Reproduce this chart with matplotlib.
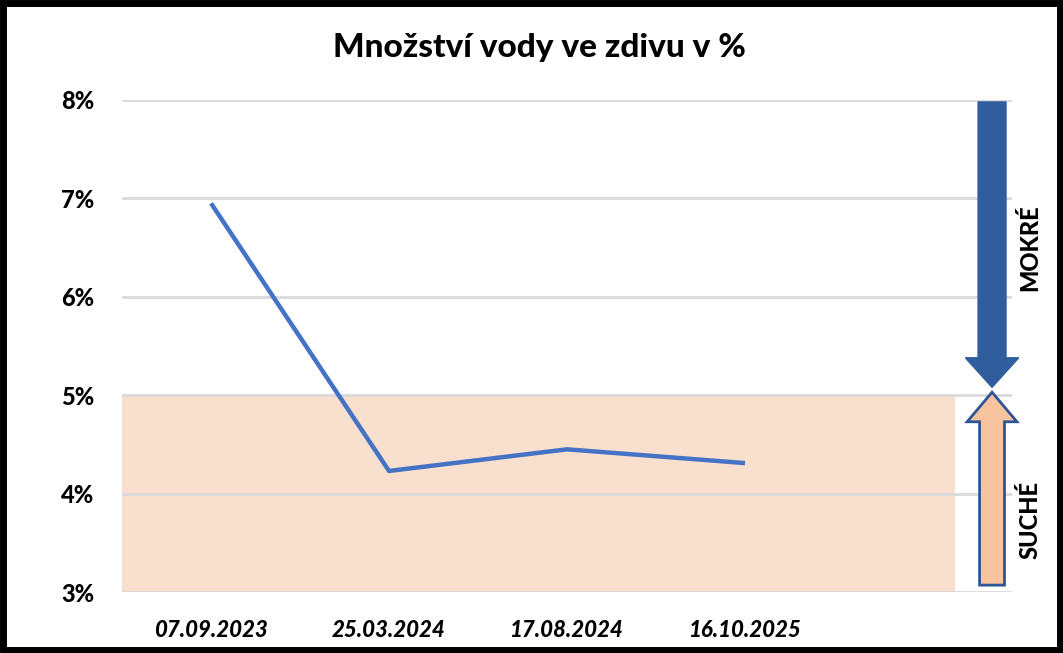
import matplotlib.pyplot as plt
import matplotlib.patches as mpatches
from matplotlib.ticker import FuncFormatter

plt.rcParams['font.family'] = ['Lato', 'DejaVu Sans']

dates = ['07.09.2023', '25.03.2024', '17.08.2024', '16.10.2025']
water = [6.95, 4.23, 4.45, 4.31]
y_ticks = [3, 4, 5, 6, 7, 8]
dry_limit = 5

fig = plt.figure(figsize=(10.63, 6.53), dpi=100)
ax = fig.add_axes([0.1148, 0.0934, 0.8372, 0.7535])

# dry zone shading
ax.fill_between([-0.5, 4.18], 3, dry_limit, color='#F9E0CE', zorder=1, linewidth=0)

ax.plot(range(len(dates)), water, color='#4472C4', linewidth=3.2, zorder=3,
        solid_capstyle='butt')

ax.set_xlim(-0.5, 4.5)
ax.set_ylim(3, 8)
ax.set_yticks(y_ticks)
ax.yaxis.set_major_formatter(FuncFormatter(lambda v, p: f'{v:.0f}%'))
ax.set_xticks(range(len(dates)))
ax.set_xticklabels(dates, fontsize=16, fontweight='black', style='italic')
for lab in ax.get_yticklabels():
    lab.set_fontsize(17)
    lab.set_fontweight('black')
ax.tick_params(axis='both', length=0)
ax.tick_params(axis='y', pad=20)
ax.tick_params(axis='x', pad=20)
ax.grid(axis='y', color='#D9D9D9', linewidth=2, zorder=2)
ax.set_axisbelow(False)
for s in ax.spines.values():
    s.set_visible(False)

# arrows on the right
arr_x = 4.388
wet = mpatches.FancyArrow(arr_x, 7.98, 0, 5.08 - 7.98, width=0.157, head_width=0.30,
                          head_length=0.30, length_includes_head=True,
                          facecolor='#2F5D9E', edgecolor='#2F5D9E', clip_on=False, zorder=4)
dry = mpatches.FancyArrow(arr_x, 3.07, 0, 5.03 - 3.07, width=0.14, head_width=0.28,
                          head_length=0.30, length_includes_head=True,
                          facecolor='#F8C4A0', edgecolor='#2F5597', linewidth=2,
                          clip_on=False, zorder=4)
ax.add_patch(wet)
ax.add_patch(dry)
ax.text(4.60, 6.5, 'MOKRÉ', rotation=90, ha='center', va='center', fontsize=17,
        fontweight='black', clip_on=False)
ax.text(4.60, 3.73, 'SUCHÉ', rotation=90, ha='center', va='center', fontsize=17,
        fontweight='black', clip_on=False)

fig.text(0.507, 0.928, 'Množství vody ve zdivu v %', ha='center', va='center',
         fontsize=24, fontweight='black')

fig.patches.append(mpatches.Rectangle((0.003, 0.004), 0.994, 0.992, transform=fig.transFigure,
                                      fill=False, edgecolor='black', linewidth=5))

plt.savefig('out.png', dpi=100)
